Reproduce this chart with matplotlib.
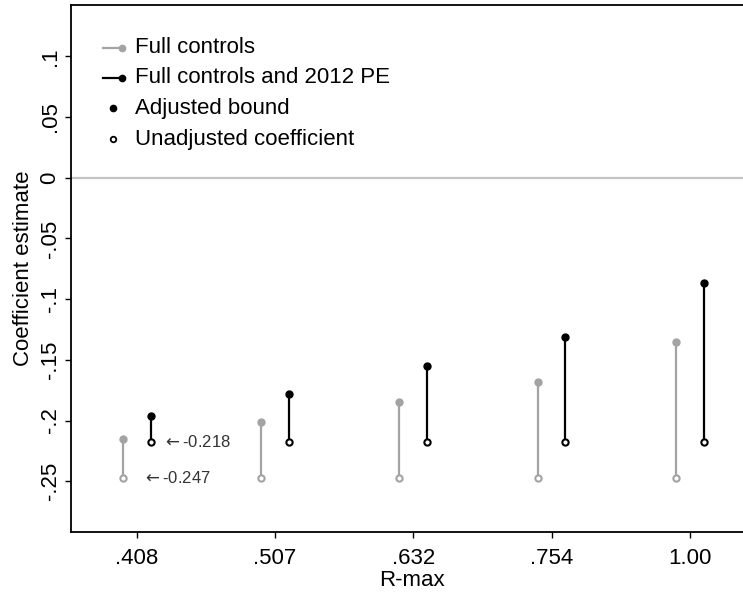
import matplotlib
matplotlib.use("Agg")
import matplotlib.pyplot as plt

# R-max columns
rmax_labels = [".408", ".507", ".632", ".754", "1.00"]

# full controls (grey)
full_unadj = [-0.247, -0.247, -0.247, -0.247, -0.247]
full_bound = [-0.215, -0.201, -0.185, -0.168, -0.135]

# full controls and 2012 PE (black)
pe_unadj = [-0.218, -0.218, -0.218, -0.218, -0.218]
pe_bound = [-0.196, -0.178, -0.155, -0.131, -0.087]

yticks = [0.1, 0.05, 0, -0.05, -0.1, -0.15, -0.2, -0.25]
ytick_labels = [".1", ".05", "0", "-.05", "-.1", "-.15", "-.2", "-.25"]

GREY = "#a3a3a3"
plt.rcParams["font.family"] = ["Liberation Sans", "DejaVu Sans"]

fig = plt.figure(figsize=(7.43, 5.94), dpi=100)
ax = fig.add_axes([71 / 743, 62.3 / 594, 682 / 743, 526.7 / 594])

pos = list(range(1, len(rmax_labels) + 1))
off = 0.1

ax.axhline(0, color="#c4c4c4", lw=1.6, zorder=1)

def draw_stems(xs, lo, hi, color):
    for x, a, b in zip(xs, lo, hi):
        ax.plot([x, x], [a, b], color=color, lw=1.6, zorder=2)
    ax.plot(xs, hi, "o", color=color, ms=5, zorder=3)
    ax.plot(xs, lo, "o", mfc="white", mec=color, ms=4.5, mew=1.5, zorder=3)

draw_stems([p - off for p in pos], full_unadj, full_bound, GREY)
draw_stems([p + off for p in pos], pe_unadj, pe_bound, "black")

# value notes for the first column
ax.text(pos[0] + 0.18, pe_unadj[0], r"$\leftarrow$-0.218", fontsize=12, color="#333333", va="center")
ax.text(pos[0] + 0.036, full_unadj[0], r"$\leftarrow$-0.247", fontsize=12, color="#333333", va="center")

# legend drawn by hand, Stata style
rows = [0.919, 0.862, 0.8035, 0.745]
tr = ax.transAxes
ax.plot([0.047, 0.075], [rows[0]] * 2, color=GREY, lw=1.6, transform=tr)
ax.plot([0.075], [rows[0]], "o", color=GREY, ms=4.5, transform=tr)
ax.plot([0.047, 0.075], [rows[1]] * 2, color="black", lw=1.6, transform=tr)
ax.plot([0.075], [rows[1]], "o", color="black", ms=4.5, transform=tr)
ax.plot([0.0616], [rows[2]], "o", color="black", ms=4.5, transform=tr)
ax.plot([0.0616], [rows[3]], "o", mfc="white", mec="black", ms=4, mew=1.3, transform=tr)
legend_text = ["Full controls", "Full controls and 2012 PE", "Adjusted bound", "Unadjusted coefficient"]
for y, t in zip(rows, legend_text):
    ax.text(0.094, y, t, fontsize=16, va="center", transform=tr)

ax.set_xlim(0.525, 5.456)
ax.set_ylim(-0.2916, 0.1423)
ax.set_xticks(pos)
ax.set_xticklabels(rmax_labels)
ax.set_yticks(yticks)
ax.set_yticklabels(ytick_labels, rotation=90, va="center")
ax.tick_params(labelsize=16, direction="out", length=4.5, width=1)
ax.tick_params(axis="y", pad=3)
ax.tick_params(axis="x", pad=7)
ax.set_xlabel("R-max", fontsize=16, labelpad=1)
ax.set_ylabel("Coefficient estimate", fontsize=16, labelpad=4)
for s in ax.spines.values():
    s.set_linewidth(1.3)

fig.savefig("out.png", dpi=100)
